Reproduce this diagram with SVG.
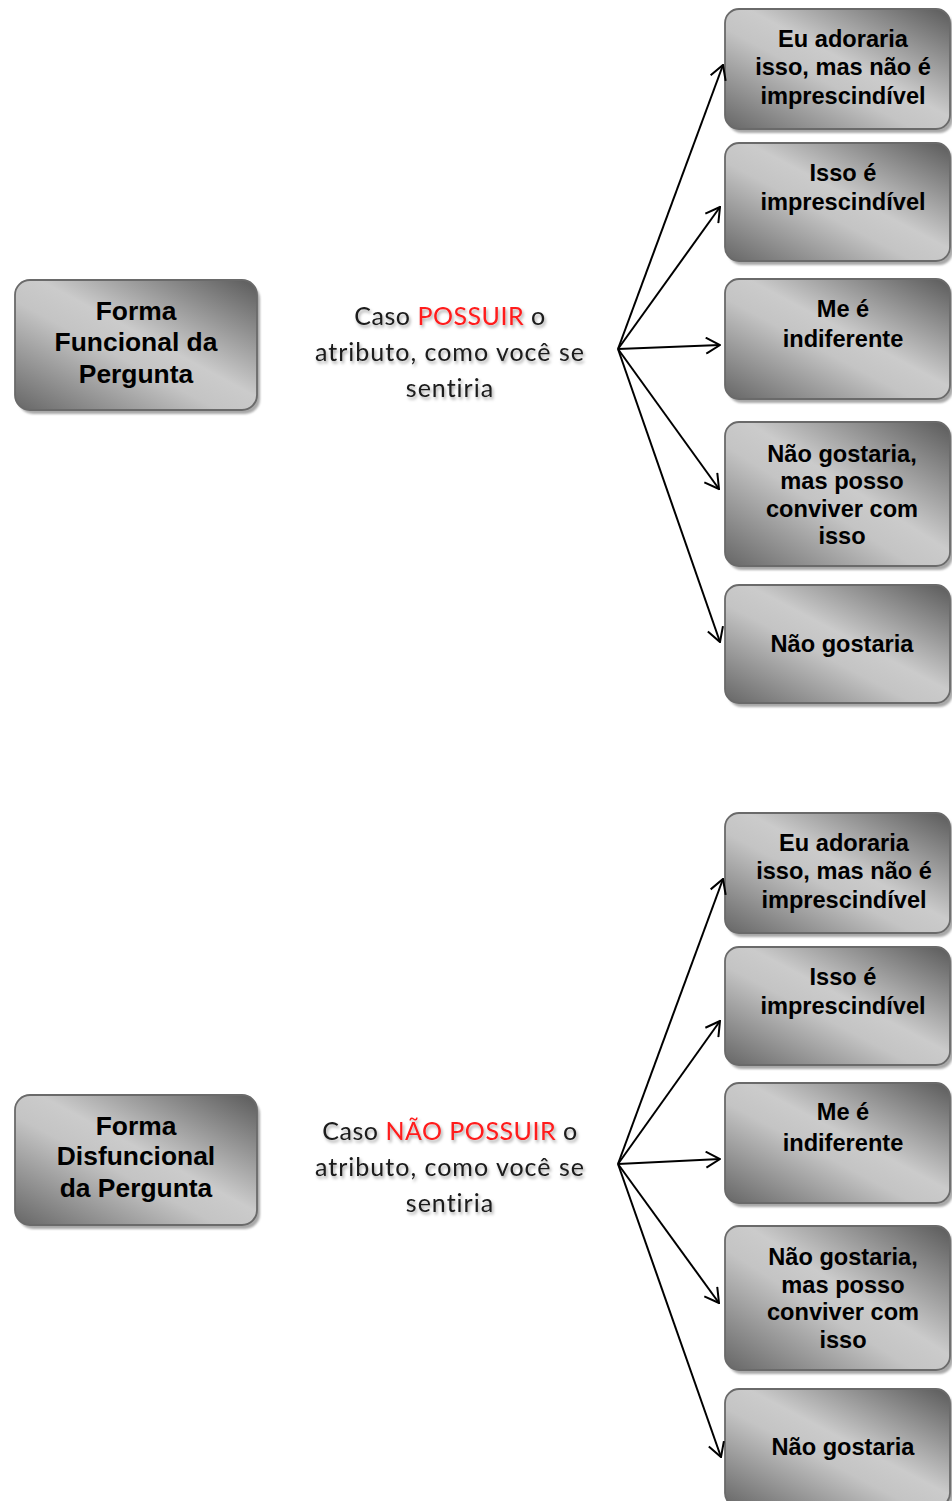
<svg xmlns="http://www.w3.org/2000/svg" width="952" height="1501" viewBox="0 0 952 1501">
  <defs>
    <linearGradient id="boxFill" x1="1" y1="0" x2="0" y2="1">
      <stop offset="0" stop-color="#5a5a5a"/>
      <stop offset="0.45" stop-color="#cbcbcb"/>
      <stop offset="0.58" stop-color="#c4c4c4"/>
      <stop offset="1" stop-color="#666666"/>
    </linearGradient>
    <filter id="shadowBlur" x="-10%" y="-10%" width="120%" height="120%">
      <feGaussianBlur stdDeviation="1.2"/>
    </filter>
    <filter id="textShadow" x="-10%" y="-30%" width="120%" height="160%">
      <feDropShadow dx="1.5" dy="2.5" stdDeviation="1.8" flood-color="#000" flood-opacity="0.35"/>
    </filter>
    <marker id="openArrow" viewBox="0 0 16 18" refX="15" refY="9" markerWidth="16" markerHeight="18" markerUnits="userSpaceOnUse" orient="auto">
      <path d="M1,1 L15,9 L1,17" fill="none" stroke="#000" stroke-width="2"/>
    </marker>
  </defs>
  <style>
    .shadow { fill: #a8a8a8; filter: url(#shadowBlur); }
    .box { fill: url(#boxFill); stroke: #6a6a6a; stroke-width: 1.8; }
    .lbl { font-family: "Liberation Sans", Arial, sans-serif; font-weight: bold; font-size: 23.6px; fill: #000; text-anchor: middle; }
    .lblBig { font-family: "Liberation Sans", Arial, sans-serif; font-weight: bold; font-size: 26.4px; fill: #000; text-anchor: middle; }
    .cap { font-family: Lato, "Open Sans", sans-serif; font-size: 25px; letter-spacing: 1px; fill: #1a1a1a; text-anchor: middle; filter: url(#textShadow); }
    .tight { letter-spacing: 0.5px; }
    .red { fill: #ff1a1a; }
    .conn { stroke: #000; stroke-width: 2; fill: none; marker-end: url(#openArrow); }
  </style>

  <rect width="952" height="1501" fill="#fff"/>

  <!-- Functional form: source node -->
  <g id="funcional">
    <rect class="shadow" x="18" y="284" width="242" height="130" rx="15"/>
    <rect class="box" x="15" y="280" width="242" height="130" rx="15"/>
    <text class="lblBig" x="136" y="320">Forma</text>
    <text class="lblBig" x="136" y="351">Funcional da</text>
    <text class="lblBig" x="136" y="383">Pergunta</text>
  </g>

  <g id="caption-possuir">
    <text class="cap tight" x="450" y="325">Caso <tspan class="red">POSSUIR</tspan> o</text>
    <text class="cap" x="450" y="361">atributo, como você se</text>
    <text class="cap" x="450" y="397">sentiria</text>
  </g>

  <g id="f-adoraria">
    <rect class="shadow" x="728" y="13" width="225" height="120" rx="14"/>
    <rect class="box" x="725" y="9" width="225" height="120" rx="14"/>
    <text class="lbl" x="843" y="47">Eu adoraria</text>
    <text class="lbl" x="843" y="75">isso, mas não é</text>
    <text class="lbl" x="843" y="104">imprescindível</text>
  </g>
  <g id="f-imprescindivel">
    <rect class="shadow" x="728" y="147" width="225" height="118" rx="14"/>
    <rect class="box" x="725" y="143" width="225" height="118" rx="14"/>
    <text class="lbl" x="843" y="181">Isso é</text>
    <text class="lbl" x="843" y="210">imprescindível</text>
  </g>
  <g id="f-indiferente">
    <rect class="shadow" x="728" y="283" width="225" height="120" rx="14"/>
    <rect class="box" x="725" y="279" width="225" height="120" rx="14"/>
    <text class="lbl" x="843" y="317">Me é</text>
    <text class="lbl" x="843" y="347">indiferente</text>
  </g>
  <g id="f-conviver">
    <rect class="shadow" x="728" y="426" width="225" height="144" rx="14"/>
    <rect class="box" x="725" y="422" width="225" height="144" rx="14"/>
    <text class="lbl" x="842" y="462">Não gostaria,</text>
    <text class="lbl" x="842" y="489">mas posso</text>
    <text class="lbl" x="842" y="517">conviver com</text>
    <text class="lbl" x="842" y="544">isso</text>
  </g>
  <g id="f-nao-gostaria">
    <rect class="shadow" x="728" y="589" width="225" height="118" rx="14"/>
    <rect class="box" x="725" y="585" width="225" height="118" rx="14"/>
    <text class="lbl" x="842" y="652">Não gostaria</text>
  </g>

  <!-- Dysfunctional form: source node -->
  <g id="disfuncional">
    <rect class="shadow" x="18" y="1099" width="242" height="130" rx="15"/>
    <rect class="box" x="15" y="1095" width="242" height="130" rx="15"/>
    <text class="lblBig" x="136" y="1135">Forma</text>
    <text class="lblBig" x="136" y="1165">Disfuncional</text>
    <text class="lblBig" x="136" y="1197">da Pergunta</text>
  </g>

  <g id="caption-nao-possuir">
    <text class="cap tight" x="450" y="1140">Caso <tspan class="red">NÃO POSSUIR</tspan> o</text>
    <text class="cap" x="450" y="1176">atributo, como você se</text>
    <text class="cap" x="450" y="1212">sentiria</text>
  </g>

  <g id="d-adoraria">
    <rect class="shadow" x="728" y="817" width="225" height="120" rx="14"/>
    <rect class="box" x="725" y="813" width="225" height="120" rx="14"/>
    <text class="lbl" x="844" y="851">Eu adoraria</text>
    <text class="lbl" x="844" y="879">isso, mas não é</text>
    <text class="lbl" x="844" y="908">imprescindível</text>
  </g>
  <g id="d-imprescindivel">
    <rect class="shadow" x="728" y="951" width="225" height="118" rx="14"/>
    <rect class="box" x="725" y="947" width="225" height="118" rx="14"/>
    <text class="lbl" x="843" y="985">Isso é</text>
    <text class="lbl" x="843" y="1014">imprescindível</text>
  </g>
  <g id="d-indiferente">
    <rect class="shadow" x="728" y="1087" width="225" height="120" rx="14"/>
    <rect class="box" x="725" y="1083" width="225" height="120" rx="14"/>
    <text class="lbl" x="843" y="1120">Me é</text>
    <text class="lbl" x="843" y="1151">indiferente</text>
  </g>
  <g id="d-conviver">
    <rect class="shadow" x="728" y="1230" width="225" height="144" rx="14"/>
    <rect class="box" x="725" y="1226" width="225" height="144" rx="14"/>
    <text class="lbl" x="843" y="1265">Não gostaria,</text>
    <text class="lbl" x="843" y="1293">mas posso</text>
    <text class="lbl" x="843" y="1320">conviver com</text>
    <text class="lbl" x="843" y="1348">isso</text>
  </g>
  <g id="d-nao-gostaria">
    <rect class="shadow" x="728" y="1393" width="225" height="118" rx="14"/>
    <rect class="box" x="725" y="1389" width="225" height="118" rx="14"/>
    <text class="lbl" x="843" y="1455">Não gostaria</text>
  </g>

  <!-- Fan-out connectors -->
  <g id="connectors">
    <line class="conn" x1="618" y1="349" x2="723" y2="65"/>
    <line class="conn" x1="618" y1="349" x2="720" y2="207"/>
    <line class="conn" x1="618" y1="349" x2="720" y2="345"/>
    <line class="conn" x1="618" y1="349" x2="719" y2="489"/>
    <line class="conn" x1="618" y1="349" x2="720" y2="642"/>

    <line class="conn" x1="618" y1="1164" x2="723" y2="879"/>
    <line class="conn" x1="618" y1="1164" x2="720" y2="1021"/>
    <line class="conn" x1="618" y1="1164" x2="720" y2="1159"/>
    <line class="conn" x1="618" y1="1164" x2="719" y2="1303"/>
    <line class="conn" x1="618" y1="1164" x2="721" y2="1457"/>
  </g>
</svg>
